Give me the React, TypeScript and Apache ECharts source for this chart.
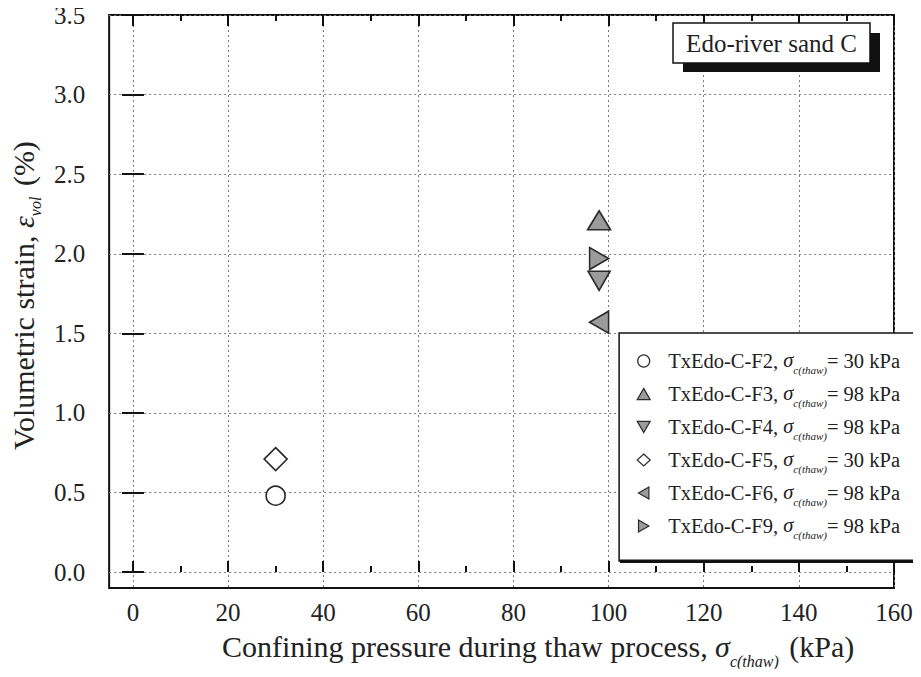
import React, { useEffect, useRef } from "react";
import * as echarts from "echarts";

const seriesNames = ["TxEdo-C-F2", "TxEdo-C-F3", "TxEdo-C-F4", "TxEdo-C-F5", "TxEdo-C-F6", "TxEdo-C-F9"];
const thawPressureLabel = [30, 98, 98, 30, 98, 98];
const confiningPressure = [30, 98, 98, 30, 98, 98];
const volumetricStrain = [0.48, 2.21, 1.83, 0.71, 1.57, 1.97];

const xMajorTicks = [0, 20, 40, 60, 80, 100, 120, 140, 160];
const xMinorTicks = [10, 30, 50, 70, 90, 110, 130, 150];
const yMajorTicks = [0, 0.5, 1.0, 1.5, 2.0, 2.5, 3.0, 3.5];

const FONT = "Liberation Serif, Times New Roman, serif";
const GRAY = "#9b9b9b";
const EDGE = "#2a2a2a";

const symbols = [
  "circle",
  "path://M5,0L10,8.66L0,8.66Z",
  "path://M0,0L10,0L5,8.66Z",
  "diamond",
  "path://M8.66,0L8.66,10L0,5Z",
  "path://M0,0L0,10L8.66,5Z",
];
const symbolSizes: any[] = [19, [23, 19], [22, 19], [23, 23], [19, 22], [19, 22]];
const fills = ["#ffffff", GRAY, GRAY, "#ffffff", GRAY, GRAY];

export default function App() {
  const ref = useRef<HTMLDivElement>(null);
  useEffect(() => {
    if (!ref.current) return;
    const chart = echarts.init(ref.current, null, { renderer: "svg" });
    const tickLine = { color: "#111", width: 2 };
    const baseAxis = {
      type: "value",
      axisLine: { show: false },
      splitLine: { show: false },
      axisLabel: { show: false },
    };
    const nameRich = (subPad: number) => ({
      a: { fontSize: 30, fontFamily: FONT, color: "#222", lineHeight: 31, verticalAlign: "top" },
      e: { fontSize: 30, fontFamily: FONT, fontStyle: "italic", color: "#222", lineHeight: 31, verticalAlign: "top" },
      sub: { fontSize: 16, fontFamily: FONT, fontStyle: "italic", color: "#222", lineHeight: 16, verticalAlign: "top", padding: [subPad, 3, 0, 0] },
    });
    const option: any = {
      animation: false,
      textStyle: { fontFamily: FONT },
      grid: {
        left: 108,
        right: 27,
        top: 15,
        bottom: 89,
        show: true,
        borderColor: "#111",
        borderWidth: 2,
        backgroundColor: "transparent",
      },
      xAxis: [
        {
          ...baseAxis,
          min: -5,
          max: 160,
          position: "bottom",
          axisTick: { show: true, inside: true, length: 11, lineStyle: tickLine, customValues: xMajorTicks },
          axisLabel: { show: true, customValues: xMajorTicks, fontSize: 25, color: "#222", margin: 12, fontFamily: FONT },
          splitLine: { show: true, lineStyle: { type: [2, 3], color: "#7a7a7a", width: 1 } },
          name: "{a|Confining pressure during thaw process, }{e|σ}{sub|c(thaw)}{a| (kPa)}",
          nameLocation: "middle",
          nameGap: 43,
          nameTextStyle: { rich: nameRich(22), padding: [0, 0, 0, 73] },
        },
        { ...baseAxis, min: -5, max: 160, position: "bottom", axisTick: { show: true, inside: true, length: 6, lineStyle: tickLine, customValues: xMinorTicks } },
        { ...baseAxis, min: -5, max: 160, position: "top", axisTick: { show: true, inside: true, length: 11, lineStyle: tickLine, customValues: xMajorTicks } },
        { ...baseAxis, min: -5, max: 160, position: "top", axisTick: { show: true, inside: true, length: 6, lineStyle: tickLine, customValues: xMinorTicks } },
      ],
      yAxis: [
        {
          ...baseAxis,
          min: -0.1,
          max: 3.5,
          position: "left",
          axisTick: { show: true, inside: true, length: 11, lineStyle: tickLine, customValues: yMajorTicks },
          axisLabel: {
            show: true,
            customValues: yMajorTicks,
            fontSize: 25,
            color: "#222",
            margin: 24,
            fontFamily: FONT,
            formatter: (v: number) => v.toFixed(1),
          },
          splitLine: { show: true, lineStyle: { type: [2, 3], color: "#7a7a7a", width: 1 } },
          name: "{a|Volumetric strain, }{e|ε}{sub|vol}{a| (%)}",
          nameLocation: "middle",
          nameRotate: 90,
          nameGap: 64,
          nameTextStyle: { rich: nameRich(19), padding: [0, 0, 0, 12] },
        },
        { ...baseAxis, min: -0.1, max: 3.5, position: "right", axisTick: { show: true, inside: true, length: 11, lineStyle: tickLine, customValues: yMajorTicks } },
      ],
      legend: {
        orient: "vertical",
        right: 2,
        top: 333,
        padding: [17, 19, 21, 17.5],
        itemGap: 8,
        itemWidth: 13,
        itemHeight: 12,
        backgroundColor: "#fff",
        borderColor: "#111",
        borderWidth: 1.5,
        borderRadius: 0,
        z: 6,
        data: seriesNames,
        itemStyle: { borderWidth: 1.2 },
        formatter: (name: string) => {
          const i = seriesNames.indexOf(name);
          return `{n|${name}, }{e|σ}{sub|c(thaw)}{a|= ${thawPressureLabel[i]} kPa}`;
        },
        textStyle: {
          rich: {
            n: { fontSize: 20.5, fontFamily: FONT, color: "#222", lineHeight: 22, verticalAlign: "top", padding: [0, 0, 0, 13] },
            a: { fontSize: 20.5, fontFamily: FONT, color: "#222", lineHeight: 22, verticalAlign: "top" },
            e: { fontSize: 20.5, fontFamily: FONT, fontStyle: "italic", color: "#222", lineHeight: 22, verticalAlign: "top" },
            sub: { fontSize: 11, fontFamily: FONT, fontStyle: "italic", color: "#222", lineHeight: 11, verticalAlign: "top", padding: [14, 0, 0, 0] },
          },
        },
      },
      graphic: [
        { type: "rect", z: 20, shape: { x: 620, y: 559.5, width: 301, height: 3.5 }, style: { fill: "#111" } },
        { type: "rect", z: 10, shape: { x: 683, y: 33, width: 197, height: 39 }, style: { fill: "#111" } },
        { type: "rect", z: 11, shape: { x: 673, y: 23, width: 197, height: 40 }, style: { fill: "#fff", stroke: "#111", lineWidth: 1.5 } },
        {
          type: "text",
          z: 12,
          x: 771.5,
          y: 43,
          style: { text: "Edo-river sand C", fontSize: 25, fontFamily: FONT, fill: "#222", align: "center", verticalAlign: "middle" },
        },
      ],
      series: seriesNames.map((name, i) => ({
        name,
        type: "scatter",
        xAxisIndex: 0,
        yAxisIndex: 0,
        symbol: symbols[i],
        symbolSize: symbolSizes[i],
        symbolKeepAspect: false,
        data: [[confiningPressure[i], volumetricStrain[i]]],
        itemStyle: { color: fills[i], borderColor: EDGE, borderWidth: 1.6, opacity: 1 },
        z: 4,
      })),
    };
    chart.setOption(option);
    return () => chart.dispose();
  }, []);
  return <div ref={ref} style={{ width: 921, height: 677, margin: -8, background: "#fff" }} />;
}
